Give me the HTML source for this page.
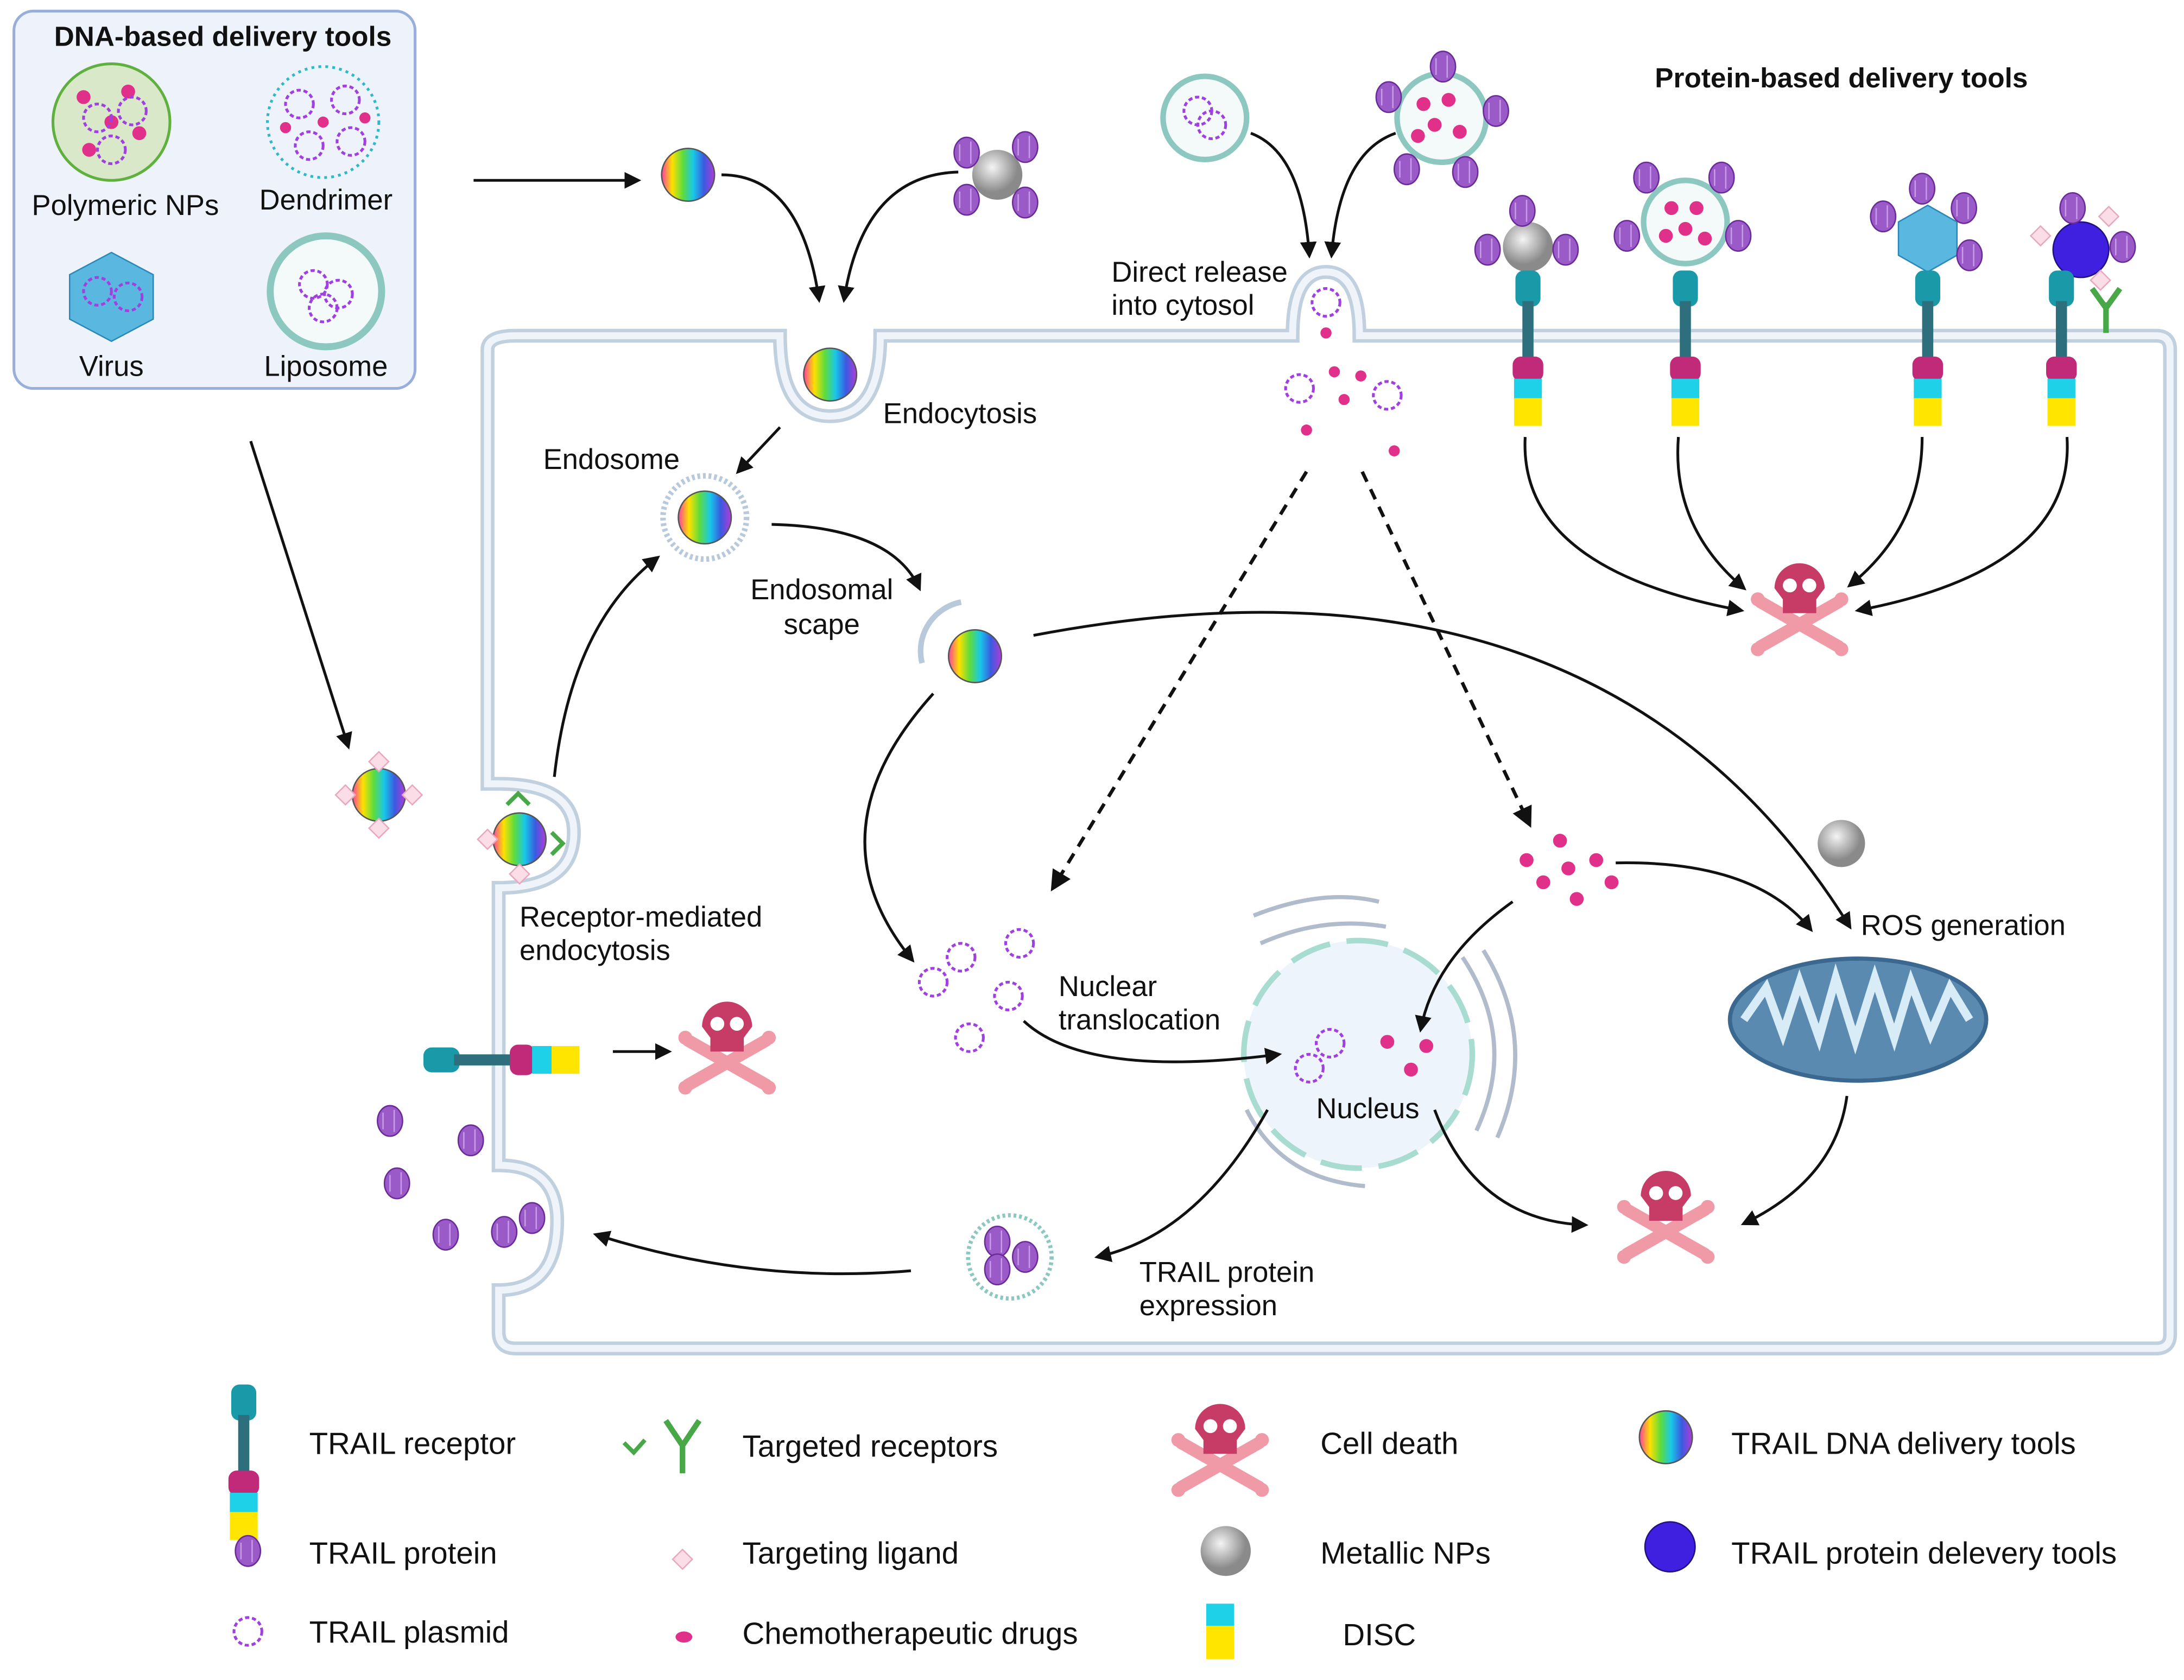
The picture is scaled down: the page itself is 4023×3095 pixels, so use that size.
<!DOCTYPE html>
<html><head><meta charset="utf-8"><style>
html,body{margin:0;padding:0;background:#fff}
svg{display:block}
text{font-family:"Liberation Sans",sans-serif;fill:#111}
</style></head><body>
<svg width="4023" height="3095" viewBox="0 0 1568 1211" preserveAspectRatio="none" xmlns="http://www.w3.org/2000/svg">
<defs>
<linearGradient id="rb" x1="0" x2="1" y1="0" y2="0">
<stop offset="0" stop-color="#ff3fa0"/><stop offset="0.2" stop-color="#ffe000"/><stop offset="0.4" stop-color="#5fdc3c"/><stop offset="0.6" stop-color="#18c8e8"/><stop offset="0.8" stop-color="#3a5ae0"/><stop offset="1" stop-color="#b23cd8"/></linearGradient>
<radialGradient id="gr" cx="0.4" cy="0.35"><stop offset="0" stop-color="#f4f4f4"/><stop offset="1" stop-color="#8a8a8a"/></radialGradient>
<marker id="ar" viewBox="0 0 10 10" refX="8" refY="5" markerWidth="6" markerHeight="6" orient="auto"><path d="M0,0 L10,5 L0,10 z" fill="#111"/></marker>
<g id="sph"><circle r="19" fill="url(#rb)" stroke="#555" stroke-width="1"/></g>
<g id="skull">
<path d="M-28,10 L28,42 M-28,42 L28,10" stroke="#f09aa8" stroke-width="9" stroke-linecap="round"/>
<circle cx="-30" cy="8" r="5" fill="#f09aa8"/><circle cx="30" cy="8" r="5" fill="#f09aa8"/><circle cx="-30" cy="44" r="5" fill="#f09aa8"/><circle cx="30" cy="44" r="5" fill="#f09aa8"/>
<path d="M-18,0 A18,18 0 1 1 18,0 L12,8 L12,18 L-12,18 L-12,8 Z" fill="#c63c66"/>
<circle cx="-7" cy="-2" r="5" fill="#fff"/><circle cx="7" cy="-2" r="5" fill="#fff"/>
</g>
<g id="pl"><circle r="10" fill="none" stroke="#a040e0" stroke-width="2" stroke-dasharray="3 2"/></g>
<g id="tp"><ellipse rx="9" ry="11" fill="#9a5ac8" stroke="#6a2a98"/><line x1="-5" y1="-6" x2="-5" y2="6" stroke="#c99ae8"/><line x1="3" y1="-8" x2="3" y2="8" stroke="#c99ae8"/></g>
<g id="rec">
<rect x="-9" y="0" width="18" height="26" rx="6" fill="#1a9aa8"/>
<rect x="-4" y="22" width="8" height="44" fill="#2d6f7c"/>
<rect x="-11" y="62" width="22" height="18" rx="6" fill="#c02a78"/>
<rect x="-10" y="78" width="20" height="14" fill="#1ed0e8"/>
<rect x="-10" y="92" width="20" height="20" fill="#ffe500"/>
</g>
<g id="lig"><rect x="-5" y="-5" width="10" height="10" fill="#fbdde8" stroke="#e8a8c0" transform="rotate(45)"/></g>
</defs>

<rect x="10" y="8" width="288" height="272" rx="14" fill="#eef3fb" stroke="#9aaedc" stroke-width="2"/>
<text x="160" y="33" font-size="20" font-weight="bold" text-anchor="middle">DNA-based delivery tools</text>
<circle cx="80" cy="88" r="42" fill="#d8e8c8" stroke="#60b040" stroke-width="2"/>
<g fill="#e0308a"><circle cx="60" cy="70" r="5"/><circle cx="92" cy="66" r="5"/><circle cx="100" cy="96" r="5"/><circle cx="64" cy="108" r="5"/><circle cx="80" cy="88" r="5"/></g>
<use href="#pl" x="70" y="85"/><use href="#pl" x="95" y="80"/><use href="#pl" x="80" y="108"/>
<text x="90" y="155" font-size="20.5" text-anchor="middle">Polymeric NPs</text>
<circle cx="232" cy="88" r="40" fill="none" stroke="#30b8c8" stroke-width="2" stroke-dasharray="2 3"/>
<use href="#pl" x="215" y="75"/><use href="#pl" x="248" y="72"/><use href="#pl" x="222" y="105"/><use href="#pl" x="252" y="102"/>
<g fill="#e0308a"><circle cx="232" cy="88" r="4"/><circle cx="205" cy="92" r="4"/><circle cx="262" cy="85" r="4"/></g>
<text x="234" y="151" font-size="20.5" text-anchor="middle">Dendrimer</text>
<polygon points="80,182 110,198 110,230 80,246 50,230 50,198" fill="#5ab8e0" stroke="#2a88b8"/>
<use href="#pl" x="70" y="210"/><use href="#pl" x="92" y="214"/>
<text x="80" y="271" font-size="20.5" text-anchor="middle">Virus</text>
<circle cx="234" cy="210" r="40" fill="#f4fafa" stroke="#8cc8c0" stroke-width="5"/>
<use href="#pl" x="225" y="205"/><use href="#pl" x="243" y="212"/><use href="#pl" x="232" y="222"/>
<text x="234" y="271" font-size="20.5" text-anchor="middle">Liposome</text>

<path d="M370,242 L560,242 Q560,300 596,300 Q632,300 632,242 L928,242 Q928,196 952,196 Q976,196 976,242 L1548,242 Q1558,242 1558,252 L1558,962 Q1558,972 1548,972 L370,972 Q358,972 358,960 L358,930 Q400,930 400,880 Q400,840 358,840 L358,640 Q412,640 412,600 Q412,565 358,565 L350,565 L350,252 Q350,242 370,242 Z" fill="#fff" stroke="#c0d0df" stroke-width="10"/>
<path d="M370,242 L560,242 Q560,300 596,300 Q632,300 632,242 L928,242 Q928,196 952,196 Q976,196 976,242 L1548,242 Q1558,242 1558,252 L1558,962 Q1558,972 1548,972 L370,972 Q358,972 358,960 L358,930 Q400,930 400,880 Q400,840 358,840 L358,640 Q412,640 412,600 Q412,565 358,565 L350,565 L350,252 Q350,242 370,242 Z" fill="none" stroke="#eef4f9" stroke-width="5"/>

<text x="1322" y="63" font-size="20" font-weight="bold" text-anchor="middle">Protein-based delivery tools</text>
<circle cx="865" cy="85" r="30" fill="#f4fafa" stroke="#8cc8c0" stroke-width="4"/>
<use href="#pl" x="860" y="80"/><use href="#pl" x="870" y="90"/>
<circle cx="1035" cy="85" r="32" fill="#f4fafa" stroke="#8cc8c0" stroke-width="4"/>
<g fill="#e0308a"><circle cx="1022" cy="75" r="5"/><circle cx="1040" cy="72" r="5"/><circle cx="1030" cy="90" r="5"/><circle cx="1048" cy="95" r="5"/><circle cx="1018" cy="98" r="5"/></g>
<use href="#tp" x="1036" y="48"/><use href="#tp" x="997" y="70"/><use href="#tp" x="1074" y="80"/><use href="#tp" x="1010" y="122"/><use href="#tp" x="1052" y="124"/>

<g><circle cx="1097" cy="178" r="18" fill="url(#gr)"/><use href="#tp" x="1068" y="180"/><use href="#tp" x="1124" y="180"/><use href="#tp" x="1093" y="152"/></g>
<g><circle cx="1210" cy="160" r="30" fill="#f4fafa" stroke="#8cc8c0" stroke-width="4"/>
<g fill="#e0308a"><circle cx="1200" cy="150" r="5"/><circle cx="1218" cy="150" r="5"/><circle cx="1210" cy="165" r="5"/><circle cx="1196" cy="170" r="5"/><circle cx="1224" cy="172" r="5"/></g>
<use href="#tp" x="1182" y="128"/><use href="#tp" x="1236" y="128"/><use href="#tp" x="1168" y="170"/><use href="#tp" x="1248" y="170"/></g>
<g><polygon points="1384,148 1405,160 1405,184 1384,196 1363,184 1363,160" fill="#5ab8e0" stroke="#2a88b8"/>
<use href="#tp" x="1380" y="136"/><use href="#tp" x="1410" y="150"/><use href="#tp" x="1352" y="156"/><use href="#tp" x="1414" y="184"/></g>
<g><circle cx="1494" cy="180" r="20" fill="#4020e0" stroke="#201080"/>
<use href="#tp" x="1488" y="150"/><use href="#tp" x="1524" y="178"/><use href="#lig" x="1465" y="170"/><use href="#lig" x="1514" y="156"/><use href="#lig" x="1508" y="202"/>
<path d="M1512,240 L1512,218 M1512,222 L1502,208 M1512,222 L1522,208" stroke="#48a848" stroke-width="4" fill="none"/></g>
<use href="#rec" x="1097" y="195"/><use href="#rec" x="1210" y="195"/><use href="#rec" x="1384" y="195"/><use href="#rec" x="1480" y="195"/>

<line x1="340" y1="130" x2="458" y2="130" stroke="#111" stroke-width="2" marker-end="url(#ar)"/>
<use href="#sph" x="494" y="126"/>
<circle cx="716" cy="126" r="18" fill="url(#gr)"/><use href="#tp" x="694" y="110"/><use href="#tp" x="736" y="106"/><use href="#tp" x="694" y="144"/><use href="#tp" x="736" y="146"/>
<path d="M518,126 Q575,126 588,216" fill="none" stroke="#111" stroke-width="2" marker-end="url(#ar)"/>
<path d="M688,124 Q620,126 606,216" fill="none" stroke="#111" stroke-width="2" marker-end="url(#ar)"/>
<path d="M898,96 Q935,110 940,184" fill="none" stroke="#111" stroke-width="2" marker-end="url(#ar)"/>
<path d="M1002,96 Q962,110 956,184" fill="none" stroke="#111" stroke-width="2" marker-end="url(#ar)"/>
<text x="798" y="203" font-size="20.5">Direct release</text><text x="798" y="227" font-size="20.5">into cytosol</text>
<use href="#pl" x="952" y="218"/>
<g fill="#e0308a"><circle cx="952" cy="240" r="4"/><circle cx="958" cy="268" r="4"/><circle cx="977" cy="271" r="4"/><circle cx="965" cy="288" r="4"/><circle cx="938" cy="310" r="4"/><circle cx="1001" cy="325" r="4"/></g>
<use href="#pl" x="933" y="280"/><use href="#pl" x="996" y="285"/>

<use href="#sph" x="596" y="270"/>
<text x="634" y="305" font-size="20.5">Endocytosis</text>
<line x1="560" y1="308" x2="530" y2="340" stroke="#111" stroke-width="2" marker-end="url(#ar)"/>
<text x="390" y="338" font-size="20.5">Endosome</text>
<circle cx="506" cy="373" r="30" fill="#fff" stroke="#b7c9da" stroke-width="4" stroke-dasharray="2 2"/>
<use href="#sph" x="506" y="373"/>
<path d="M554,378 Q640,380 660,424" fill="none" stroke="#111" stroke-width="2" marker-end="url(#ar)"/>
<text x="590" y="432" font-size="20.5" text-anchor="middle">Endosomal</text><text x="590" y="457" font-size="20.5" text-anchor="middle">scape</text>
<path d="M690,434 A36,36 0 0 0 662,478" fill="none" stroke="#b7c9da" stroke-width="4"/>
<use href="#sph" x="700" y="473"/>
<path d="M742,458 Q1150,380 1328,668" fill="none" stroke="#111" stroke-width="2" marker-end="url(#ar)"/>
<path d="M670,500 Q580,600 655,692" fill="none" stroke="#111" stroke-width="2" marker-end="url(#ar)"/>
<line x1="938" y1="340" x2="756" y2="640" stroke="#111" stroke-width="2.5" stroke-dasharray="8 6" marker-end="url(#ar)"/>
<line x1="978" y1="340" x2="1098" y2="594" stroke="#111" stroke-width="2.5" stroke-dasharray="8 6" marker-end="url(#ar)"/>

<line x1="180" y1="318" x2="250" y2="538" stroke="#111" stroke-width="2" marker-end="url(#ar)"/>
<use href="#sph" x="272" y="573"/><use href="#lig" x="272" y="549"/><use href="#lig" x="248" y="573"/><use href="#lig" x="296" y="573"/><use href="#lig" x="272" y="597"/>
<use href="#sph" x="373" y="605"/><use href="#lig" x="350" y="605"/><use href="#lig" x="373" y="630"/>
<path d="M364,580 L372,572 L380,580 M396,600 L404,608 L396,616" stroke="#48a848" stroke-width="3" fill="none"/>
<path d="M398,560 Q410,450 472,402" fill="none" stroke="#111" stroke-width="2" marker-end="url(#ar)"/>
<text x="373" y="668" font-size="20.5">Receptor-mediated</text><text x="373" y="692" font-size="20.5">endocytosis</text>

<use href="#rec" transform="translate(304,764) rotate(-90)"/>
<line x1="440" y1="758" x2="480" y2="758" stroke="#111" stroke-width="2" marker-end="url(#ar)"/>
<use href="#skull" x="522" y="740"/>
<use href="#tp" x="280" y="808"/><use href="#tp" x="338" y="822"/><use href="#tp" x="285" y="853"/><use href="#tp" x="320" y="890"/><use href="#tp" x="362" y="888"/><use href="#tp" x="382" y="878"/>

<use href="#pl" x="670" y="708"/><use href="#pl" x="732" y="680"/><use href="#pl" x="724" y="718"/><use href="#pl" x="696" y="748"/><use href="#pl" x="690" y="690"/>
<text x="760" y="718" font-size="20.5">Nuclear</text><text x="760" y="742" font-size="20.5">translocation</text>

<path d="M900,660 Q950,640 990,650 M905,680 Q950,660 995,668" stroke="#b0bccc" stroke-width="3" fill="none"/>
<path d="M1050,690 Q1090,750 1060,815 M1065,685 Q1105,750 1075,820" stroke="#b0bccc" stroke-width="3" fill="none"/>
<path d="M895,800 Q920,850 980,855" stroke="#b0bccc" stroke-width="3" fill="none"/>
<circle cx="975" cy="760" r="82" fill="#eef4fb" stroke="#a8dcd0" stroke-width="4" stroke-dasharray="30 12"/>
<path d="M735,736 Q780,778 918,760" fill="none" stroke="#111" stroke-width="2" marker-end="url(#ar)"/>
<use href="#pl" x="940" y="770"/><use href="#pl" x="955" y="752"/>
<circle cx="996" cy="751" r="5" fill="#e0308a"/><circle cx="1024" cy="754" r="5" fill="#e0308a"/><circle cx="1013" cy="771" r="5" fill="#e0308a"/>
<text x="982" y="806" font-size="20.5" text-anchor="middle">Nucleus</text>
<g fill="#e0308a"><circle cx="1096" cy="620" r="5"/><circle cx="1120" cy="606" r="5"/><circle cx="1146" cy="620" r="5"/><circle cx="1126" cy="626" r="5"/><circle cx="1108" cy="636" r="5"/><circle cx="1132" cy="648" r="5"/><circle cx="1157" cy="636" r="5"/></g>
<path d="M1086,650 Q1030,690 1020,742" fill="none" stroke="#111" stroke-width="2" marker-end="url(#ar)"/>
<path d="M1160,622 Q1260,620 1300,670" fill="none" stroke="#111" stroke-width="2" marker-end="url(#ar)"/>
<circle cx="1322" cy="608" r="17" fill="url(#gr)"/>
<text x="1336" y="674" font-size="20.5">ROS generation</text>
<ellipse cx="1334" cy="735" rx="92" ry="44" fill="#5b8ab0" stroke="#3a6890" stroke-width="3"/>
<path d="M1252,735 L1268,712 L1280,745 L1292,708 L1306,748 L1318,705 L1332,750 L1346,705 L1360,748 L1372,708 L1386,745 L1400,712 L1414,735" fill="none" stroke="#d8ecf8" stroke-width="6"/>
<path d="M1326,790 Q1318,850 1252,882" fill="none" stroke="#111" stroke-width="2" marker-end="url(#ar)"/>
<path d="M1030,800 Q1060,880 1138,883" fill="none" stroke="#111" stroke-width="2" marker-end="url(#ar)"/>
<use href="#skull" x="1196" y="862"/>
<path d="M910,800 Q860,890 788,906" fill="none" stroke="#111" stroke-width="2" marker-end="url(#ar)"/>
<text x="818" y="924" font-size="20.5">TRAIL protein</text><text x="818" y="948" font-size="20.5">expression</text>
<circle cx="725" cy="906" r="30" fill="#fff" stroke="#8cc8c0" stroke-width="3" stroke-dasharray="2 2"/>
<use href="#tp" x="716" y="895"/><use href="#tp" x="736" y="906"/><use href="#tp" x="716" y="915"/>
<path d="M654,916 Q540,926 428,890" fill="none" stroke="#111" stroke-width="2" marker-end="url(#ar)"/>

<use href="#skull" x="1292" y="424"/>
<path d="M1095,315 Q1090,410 1250,440" fill="none" stroke="#111" stroke-width="2" marker-end="url(#ar)"/>
<path d="M1205,315 Q1200,380 1252,424" fill="none" stroke="#111" stroke-width="2" marker-end="url(#ar)"/>
<path d="M1380,315 Q1380,380 1328,422" fill="none" stroke="#111" stroke-width="2" marker-end="url(#ar)"/>
<path d="M1484,315 Q1490,410 1334,440" fill="none" stroke="#111" stroke-width="2" marker-end="url(#ar)"/>

<use href="#rec" x="175" y="998"/>
<text x="222" y="1048" font-size="22">TRAIL receptor</text>
<use href="#tp" x="178" y="1118"/><text x="222" y="1127" font-size="22">TRAIL protein</text>
<use href="#pl" x="178" y="1176"/><text x="222" y="1184" font-size="22">TRAIL plasmid</text>
<path d="M448,1040 L455,1047 L463,1038" stroke="#48a848" stroke-width="3" fill="none"/>
<path d="M490,1062 L490,1040 M490,1042 L478,1024 M490,1042 L502,1024" stroke="#48a848" stroke-width="4" fill="none"/>
<text x="533" y="1050" font-size="22">Targeted receptors</text>
<use href="#lig" x="490" y="1124"/><text x="533" y="1127" font-size="22">Targeting ligand</text>
<ellipse cx="491" cy="1180" rx="6" ry="4" fill="#e0308a"/><text x="533" y="1185" font-size="22">Chemotherapeutic drugs</text>
<use href="#skull" transform="translate(876,1030) scale(1.0)"/><text x="948" y="1048" font-size="22">Cell death</text>
<circle cx="880" cy="1118" r="18" fill="url(#gr)"/><text x="948" y="1127" font-size="22">Metallic NPs</text>
<rect x="866" y="1156" width="20" height="16" fill="#1ed0e8"/><rect x="866" y="1172" width="20" height="24" fill="#ffe500"/>
<text x="964" y="1186" font-size="22">DISC</text>
<use href="#sph" x="1196" y="1036"/><text x="1243" y="1048" font-size="22">TRAIL DNA delivery tools</text>
<circle cx="1199" cy="1115" r="18" fill="#4020e0" stroke="#201080"/><text x="1243" y="1127" font-size="22">TRAIL protein delevery tools</text>
</svg>
</body></html>
